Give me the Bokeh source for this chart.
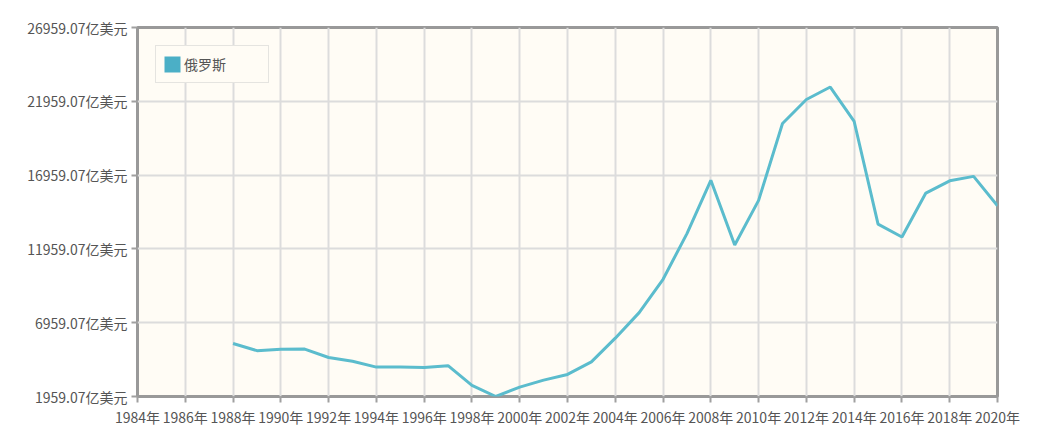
from bokeh.plotting import figure
from bokeh.models import FixedTicker, Range1d, Legend, LegendItem
from bokeh.embed import file_html
from bokeh.resources import INLINE

years = list(range(1988, 2021))
gdp = [5547, 5065, 5168, 5170, 4602, 4351, 3951, 3955, 3917, 4049, 2710, 1959.07,
       2597, 3066, 3455, 4303, 5910, 7640, 9899, 12997, 16608, 12226, 15249, 20459,
       22083, 22925, 20592, 13635, 12768, 15742, 16573, 16874, 14881]
series_name = "俄罗斯"
x_ticks = list(range(1984, 2021, 2))
y_ticks = [1959.07, 6959.07, 11959.07, 16959.07, 21959.07, 26959.07]

FONT = "Noto Sans CJK SC"
LINE_COLOR = "#5bbccd"

p = figure(width=1049, height=441, output_backend="svg", toolbar_location=None,
           x_range=Range1d(1984, 2020), y_range=Range1d(1959.07, 26959.07),
           min_border_left=137, min_border_right=52, min_border_top=27, min_border_bottom=45)

p.background_fill_color = "#fffcf5"
p.border_fill_color = "white"
p.outline_line_color = "#999999"
p.outline_line_width = 3

r_line = p.line(years, gdp, line_color=LINE_COLOR, line_width=3)
# zero-area boxes on the data points: invisible in the plot, only give the legend its square swatch
r_box = p.quad(left=years, right=years, top=gdp, bottom=gdp,
               fill_color="#4bafc6", line_color=None)

p.xaxis.ticker = FixedTicker(ticks=x_ticks)
p.xaxis.major_label_overrides = {t: f"{t}年" for t in x_ticks}
p.yaxis.ticker = FixedTicker(ticks=y_ticks)
p.yaxis.major_label_overrides = {t: f"{t:.2f}亿美元" for t in y_ticks}

for ax in (p.xaxis[0], p.yaxis[0]):
    ax.axis_line_color = None
    ax.major_tick_line_color = "#a0a0a0"
    ax.major_tick_line_width = 2
    ax.major_tick_in = 0
    ax.major_tick_out = 6
    ax.minor_tick_line_color = None
    ax.major_label_text_font = FONT
    ax.major_label_text_font_size = "14px"
    ax.major_label_text_color = "#555555"
    ax.major_label_standoff = 4

p.xgrid.grid_line_color = "#dcdcdc"
p.xgrid.grid_line_width = 2
p.ygrid.grid_line_color = "#dcdcdc"
p.ygrid.grid_line_width = 2

legend = Legend(items=[LegendItem(label=series_name, renderers=[r_box])],
                location="top_left", margin=18, padding=6, spacing=0,
                glyph_width=20, glyph_height=20, label_width=78, label_height=24,
                label_text_font=FONT, label_text_font_size="14px",
                label_text_color="#555555", label_standoff=2,
                border_line_color="#cccccc", border_line_width=1,
                background_fill_color="#fffcf5", background_fill_alpha=1.0)
p.add_layout(legend, "center")

open("out.html", "w").write(file_html(p, INLINE))
